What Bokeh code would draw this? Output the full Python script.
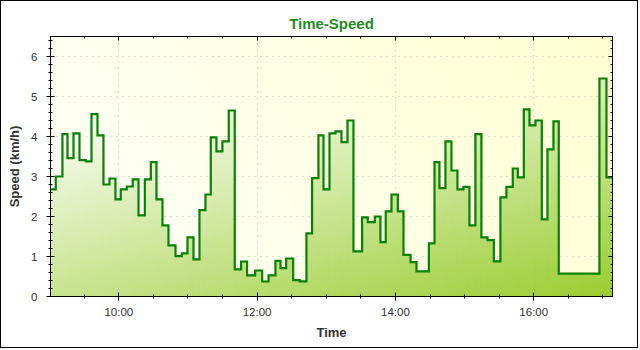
import math
import numpy as np
from bokeh.plotting import figure
from bokeh.models import Range1d, FixedTicker, LinearAxis
from bokeh.embed import file_html
from bokeh.resources import INLINE

# ---------------- data ----------------
times = [
    "09:00:45", "09:05:18", "09:11:06", "09:15:30", "09:20:42", "09:25:54", "09:31:24",
    "09:36:18", "09:41:30", "09:46:42", "09:51:54", "09:57:06", "10:01:42", "10:06:54",
    "10:12:06", "10:17:06", "10:22:36", "10:27:48", "10:32:42", "10:37:54", "10:43:06",
    "10:49:12", "10:54:42", "10:59:36", "11:04:48", "11:10:00", "11:15:12", "11:19:48",
    "11:24:42", "11:29:54", "11:35:24", "11:40:36", "11:46:06", "11:51:18", "11:58:18",
    "12:04:24", "12:09:54", "12:15:54", "12:20:18", "12:25:12", "12:31:18", "12:37:00",
    "12:42:48", "12:47:42", "12:53:12", "12:57:36", "13:02:48", "13:08:00", "13:13:12",
    "13:18:24", "13:23:36", "13:31:06", "13:36:00", "13:42:06", "13:47:00", "13:51:36",
    "13:56:36", "14:02:06", "14:07:00", "14:13:06", "14:18:18", "14:29:00", "14:33:54",
    "14:38:12", "14:43:24", "14:48:36", "14:53:48", "14:59:00", "15:04:12", "15:09:24",
    "15:14:36", "15:19:54", "15:25:24", "15:31:06", "15:36:18", "15:41:48", "15:46:12",
    "15:51:24", "15:56:18", "16:01:30", "16:07:00", "16:11:54", "16:17:06", "16:21:42",
    "16:57:00", "17:03:06", "17:08:20",
]
speeds = [
    2.68, 3.00, 4.06, 3.46, 4.08, 3.41, 3.38,
    4.56, 4.03, 2.80, 2.95, 2.43, 2.68, 2.75,
    2.93, 2.03, 2.93, 3.36, 2.43, 1.78, 1.28,
    1.01, 1.08, 1.48, 0.93, 2.16, 2.55, 3.98,
    3.63, 3.88, 4.65, 0.68, 0.875, 0.53, 0.65,
    0.375, 0.53, 0.89, 0.71, 0.95, 0.41, 0.38,
    1.58, 2.96, 4.03, 2.68, 4.08, 4.13, 3.86,
    4.40, 1.13, 1.98, 1.86, 2.00, 1.36, 2.13,
    2.55, 2.13, 1.04, 0.86, 0.63, 1.33, 3.36,
    2.71, 3.88, 3.15, 2.68, 2.74, 1.78, 4.06,
    1.48, 1.41, 0.88, 2.48, 2.74, 3.20, 2.98,
    4.68, 4.28, 4.40, 1.93, 3.68, 4.38, 0.57,
    5.45, 2.98, 2.98,
]
x_ticks = [10, 12, 14, 16]
x_tick_labels = ["10:00", "12:00", "14:00", "16:00"]
y_ticks = [0, 1, 2, 3, 4, 5, 6]
y_max = 6.5
title_text = "Time-Speed"
x_title = "Time"
y_title = "Speed (km/h)"


def to_hours(s):
    h, m, sec = (int(v) for v in s.split(":"))
    return h + m / 60 + sec / 3600


xs = [to_hours(t) for t in times]
x0, x1 = xs[0], xs[-1]

# ---------------- styles ----------------
FONT = "Liberation Sans"
AREA_LO = np.array([255, 255, 255])
AREA_HI = np.array([154, 205, 50])


def area_color(xc, yc):
    u = (xc - x0) / (x1 - x0)
    w = 1 - yc / y_max
    t = min(max(0.45 * u + 0.75 * w - 0.2, 0), 1)
    c = AREA_LO * (1 - t) + AREA_HI * t
    return "#%02x%02x%02x" % tuple(int(round(v)) for v in c)


p = figure(width=638, height=348, output_backend="svg", toolbar_location=None,
           x_range=Range1d(x0, x1), y_range=Range1d(0, y_max),
           min_border_left=49, min_border_right=27, min_border_top=35,
           min_border_bottom=53, background_fill_color="#ffffee",
           border_fill_color="white")
p.styles = {"border": "1px solid black"}
p.outline_line_color = "black"
p.outline_line_width = 1

# background gradient (pure style)
ny, nx = 260, 562
uu = (np.arange(nx) + 0.5) / nx
vv = (np.arange(ny) + 0.5) / ny  # fraction from bottom
U, V = np.meshgrid(uu, vv)
tb = 0.75 * U + 0.25 * V
img = np.empty((ny, nx), dtype=np.uint32)
view = img.view(dtype=np.uint8).reshape((ny, nx, 4))
view[:, :, 0] = 255
view[:, :, 1] = 255
view[:, :, 2] = np.round(250 - 40 * tb).astype(np.uint8)
view[:, :, 3] = 255
p.image_rgba(image=[img], x=x0, y=0, dw=x1 - x0, dh=y_max, level="image")

# area under the step line, as gradient cells
L, R, B, T, C = [], [], [], [], []
band = 0.1
for i in range(len(xs) - 1):
    xa, xb, v = xs[i], xs[i + 1], speeds[i]
    n = max(1, int(round((xb - xa) / 0.08)))
    for s in range(n):
        la = xa + (xb - xa) * s / n
        lb = xa + (xb - xa) * (s + 1) / n
        k = 0
        while k * band < v - 1e-9:
            b0 = k * band
            b1 = min(v, (k + 1) * band)
            L.append(la); R.append(lb); B.append(b0); T.append(b1)
            C.append(area_color((la + lb) / 2, (b0 + b1) / 2))
            k += 1
p.quad(left=L, right=R, bottom=B, top=T, fill_color=C, line_color=C, line_width=1)

p.step(xs, speeds, mode="after", line_color="#078207", line_width=2.2, line_join="miter")

# ---------------- axes ----------------
xticker = FixedTicker(ticks=x_ticks, minor_ticks=[9.5 + 0.5 * k for k in range(16)])
yticker = FixedTicker(ticks=y_ticks, minor_ticks=[0.2 * k for k in range(33)])

for ax in (p.xaxis[0], p.yaxis[0]):
    ax.axis_line_color = "black"
    ax.major_tick_line_color = "black"
    ax.minor_tick_line_color = "black"
    ax.major_tick_in = 4
    ax.major_tick_out = 4
    ax.minor_tick_in = 2
    ax.minor_tick_out = 2
    ax.major_label_text_font = FONT
    ax.major_label_text_font_size = "11.5px"
    ax.major_label_text_color = "#333333"
    ax.axis_label_text_font = FONT
    ax.axis_label_text_font_size = "13px"
    ax.axis_label_text_font_style = "bold"
    ax.axis_label_text_color = "#333333"

p.xaxis[0].ticker = xticker
p.xaxis[0].major_label_overrides = dict(zip(x_ticks, x_tick_labels))
p.xaxis[0].axis_label = x_title
p.xaxis[0].major_label_standoff = 5
p.xaxis[0].axis_label_standoff = 4

p.yaxis[0].ticker = yticker
p.yaxis[0].axis_label = y_title
p.yaxis[0].major_label_standoff = 9
p.yaxis[0].axis_label_standoff = 6

top_axis = LinearAxis(ticker=xticker, major_label_text_font_size="0px",
                      major_tick_in=4, major_tick_out=0, minor_tick_in=2,
                      minor_tick_out=0, major_label_standoff=0,
                      major_label_overrides={t: "" for t in x_ticks})
right_axis = LinearAxis(ticker=yticker, major_label_text_font_size="0px",
                        major_tick_in=4, major_tick_out=0, minor_tick_in=2,
                        minor_tick_out=0, major_label_standoff=0,
                        major_label_overrides={t: "" for t in y_ticks})
p.add_layout(top_axis, "above")
p.add_layout(right_axis, "right")

p.xgrid.ticker = xticker
p.ygrid.ticker = yticker
for g in (p.xgrid, p.ygrid):
    g.grid_line_color = "#bdbdbd"
    g.grid_line_dash = "1 5"
    g.grid_line_width = 1.2

p.title.text = title_text
p.title.align = "center"
p.title.text_font = FONT
p.title.text_font_size = "15px"
p.title.text_font_style = "bold"
p.title.text_color = "#228B22"
p.title.text_line_height = 0.7
p.title.offset = -11
p.title.standoff = 10

open("out.html", "w").write(file_html(p, INLINE, "Time-Speed"))
